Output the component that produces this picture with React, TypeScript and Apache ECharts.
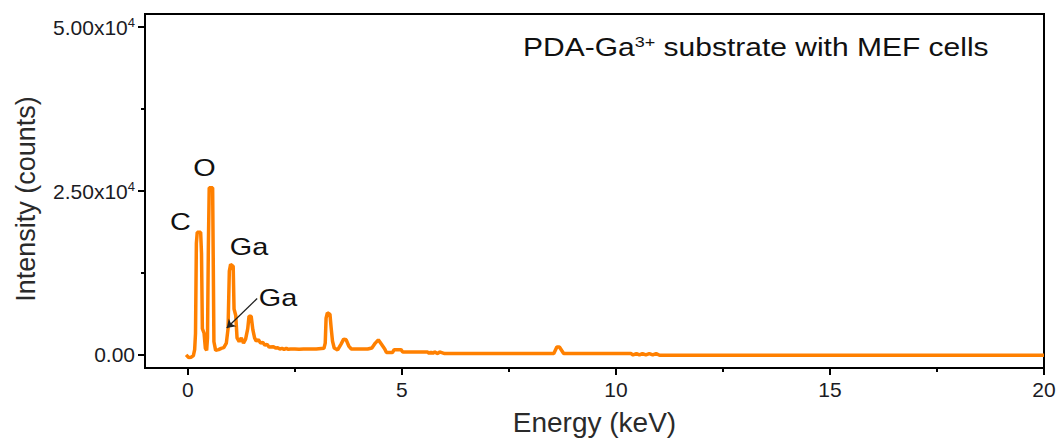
import React, { useEffect, useRef } from "react";
import * as echarts from "echarts";

// EDS spectrum
const energyKeV = [
  -0.04, 0.02, 0.08, 0.13, 0.16, 0.18, 0.2, 0.22, 0.3, 0.32, 0.34, 0.38, 0.41, 0.44,
  0.46, 0.48, 0.5, 0.58, 0.61, 0.65, 0.72, 0.78, 0.84, 0.9, 0.94, 0.97, 1.0, 1.06,
  1.08, 1.12, 1.15, 1.2, 1.25, 1.3, 1.35, 1.4, 1.43, 1.48, 1.52, 1.56, 1.6, 1.65,
  1.7, 1.75, 1.8, 1.85, 1.9, 2.0, 2.05, 2.1, 2.15, 2.2, 2.25, 2.3, 2.35, 2.4, 2.5,
  2.6, 2.7, 2.8, 3.0, 3.18, 3.21, 3.23, 3.26, 3.32, 3.35, 3.38, 3.42, 3.5, 3.58,
  3.64, 3.7, 3.76, 3.82, 4.0, 4.2, 4.3, 4.38, 4.45, 4.52, 4.6, 4.64, 4.78, 4.82,
  4.98, 5.02, 5.6, 5.64, 5.68, 5.72, 5.76, 5.84, 5.88, 6.0, 8.45, 8.55, 8.62, 8.68,
  8.78, 10.35, 10.4, 10.48, 10.55, 10.62, 10.7, 10.78, 10.86, 10.94, 11.02, 11.1, 20,
];
const counts = [
  0, -400, -350, -100, 800, 3300, 17000, 18700, 18700, 15500, 4000, 3300, 1000, 700,
  2600, 16500, 25500, 25500, 2000, 700, 800, 1000, 1100, 1800, 4000, 12800, 13800, 13500,
  7000, 6000, 2600, 2000, 2600, 1800, 2400, 4000, 5900, 5900, 3800, 2600, 2100, 2300,
  1800, 1900, 1500, 1600, 1200, 1250, 1050, 1100, 900, 1000, 850, 1000, 850, 900, 900,
  850, 900, 900, 900, 1000, 1800, 5600, 6400, 6200, 4000, 2100, 1050, 750, 1650,
  2400, 2300, 1350, 900, 900, 900, 1050, 1800, 2300, 1650, 900, 350, 350, 800,
  800, 450, 450, 200, 450, 200, 450, 200, 450, 200, 200, 200, 1200, 1200,
  200, 200, 0, 200, 0, 200, 0, 200, 0, 200, -50, -50, -50,
];

const xMajorTicks = [0, 5, 10, 15, 20];
const xMinorTicks = [2.5, 7.5, 12.5, 17.5];
const yMajorTicks = [0, 25000, 50000];
const yMinorTicks = [12500, 37500];

const arrowFrom = [1.62, 8600];
const arrowTo = [0.91, 4100];

const FONT = "'Liberation Sans', Arial, sans-serif";
const TEXT = "#1b1b24";

export default function App() {
  const ref = useRef<HTMLDivElement>(null);

  useEffect(() => {
    if (!ref.current) return;
    const chart = echarts.init(ref.current, null, { renderer: "svg" });
    const data = energyKeV.map((e, i) => [e, counts[i]]);

    const yFormatter = (v: number) =>
      v === 0 ? "0.00" : `{m|${(v / 1e4).toFixed(2)}x10}{s|4}`;

    chart.setOption({
      animation: false,
      backgroundColor: "#fff",
      grid: {
        left: 145,
        right: 18,
        top: 14,
        bottom: 71,
        show: true,
        borderColor: "#000",
        borderWidth: 2,
        backgroundColor: "transparent",
      },
      xAxis: [
        {
          type: "value",
          min: -1,
          max: 20,
          position: "bottom",
          axisLine: { show: true, onZero: false, lineStyle: { color: "#000", width: 2 } },
          axisTick: { show: true, customValues: xMajorTicks, length: 7, lineStyle: { color: "#000", width: 2 } },
          axisLabel: { customValues: xMajorTicks, margin: 11, fontSize: 21, fontFamily: FONT, color: TEXT },
          splitLine: { show: false },
          name: "Energy (keV)",
          nameLocation: "middle",
          nameGap: 40,
          nameTextStyle: { fontSize: 28, fontFamily: FONT, color: "#2a2a2a" },
        },
        {
          type: "value",
          min: -1,
          max: 20,
          position: "bottom",
          axisLine: { show: false, onZero: false },
          axisTick: { show: true, customValues: xMinorTicks, length: 4, lineStyle: { color: "#000", width: 2 } },
          axisLabel: { show: false },
          splitLine: { show: false },
        },
      ],
      yAxis: [
        {
          type: "value",
          min: -2000,
          max: 52000,
          position: "left",
          axisLine: { show: true, onZero: false, lineStyle: { color: "#000", width: 2 } },
          axisTick: { show: true, customValues: yMajorTicks, length: 7, lineStyle: { color: "#000", width: 2 } },
          axisLabel: {
            customValues: yMajorTicks,
            margin: 10,
            fontSize: 21,
            fontFamily: FONT,
            color: TEXT,
            formatter: yFormatter,
            rich: {
              m: { fontSize: 21, fontFamily: FONT, color: TEXT },
              s: { fontSize: 13, fontFamily: FONT, color: TEXT, verticalAlign: "top", padding: [0, 0, 9, 0] },
            },
          },
          splitLine: { show: false },
          name: "Intensity (counts)",
          nameLocation: "middle",
          nameGap: 106,
          nameRotate: 90,
          nameTextStyle: { fontSize: 27, fontFamily: FONT, color: "#2a2a2a", padding: [0, 16, 0, 0] },
        },
        {
          type: "value",
          min: -2000,
          max: 52000,
          position: "left",
          axisLine: { show: false, onZero: false },
          axisTick: { show: true, customValues: yMinorTicks, length: 4, lineStyle: { color: "#000", width: 2 } },
          axisLabel: { show: false },
          splitLine: { show: false },
        },
      ],
      series: [
        {
          type: "line",
          xAxisIndex: 0,
          yAxisIndex: 0,
          data,
          showSymbol: false,
          symbol: "none",
          lineStyle: { color: "#ff8000", width: 3.5 },
          itemStyle: { color: "#ff8000" },
          markLine: {
            silent: true,
            symbol: ["none", "arrow"],
            symbolSize: 8,
            label: { show: false },
            lineStyle: { color: "#222", width: 1.3, type: "solid" },
            emphasis: { disabled: true },
            data: [[{ coord: arrowFrom }, { coord: arrowTo }]],
          },
        },
      ],
      graphic: [
        {
          type: "text",
          x: 523,
          y: 47,
          scaleX: 1.2,
          style: {
            text: "{a|PDA-Ga}{s|3+}{a| substrate with MEF cells}",
            textAlign: "left",
            textVerticalAlign: "middle",
            rich: {
              a: { fontSize: 25, fontFamily: FONT, fill: "#111" },
              s: { fontSize: 15, fontFamily: FONT, fill: "#111", verticalAlign: "top", padding: [0, 0, 10, 0] },
            },
          },
        },
        { type: "text", x: 180.5, y: 222, scaleX: 1.2, style: { text: "C", fontSize: 24, fontFamily: FONT, fill: "#111", textAlign: "center", textVerticalAlign: "middle" } },
        { type: "text", x: 204.5, y: 167.5, scaleX: 1.2, style: { text: "O", fontSize: 24, fontFamily: FONT, fill: "#111", textAlign: "center", textVerticalAlign: "middle" } },
        { type: "text", x: 249, y: 246.5, scaleX: 1.2, style: { text: "Ga", fontSize: 24, fontFamily: FONT, fill: "#111", textAlign: "center", textVerticalAlign: "middle" } },
        { type: "text", x: 278, y: 298, scaleX: 1.2, style: { text: "Ga", fontSize: 24, fontFamily: FONT, fill: "#111", textAlign: "center", textVerticalAlign: "middle" } },
      ],
    });

    return () => chart.dispose();
  }, []);

  return (
    <div
      ref={ref}
      style={{ position: "fixed", left: 0, top: 0, width: 1062, height: 441, background: "#fff" }}
    />
  );
}
